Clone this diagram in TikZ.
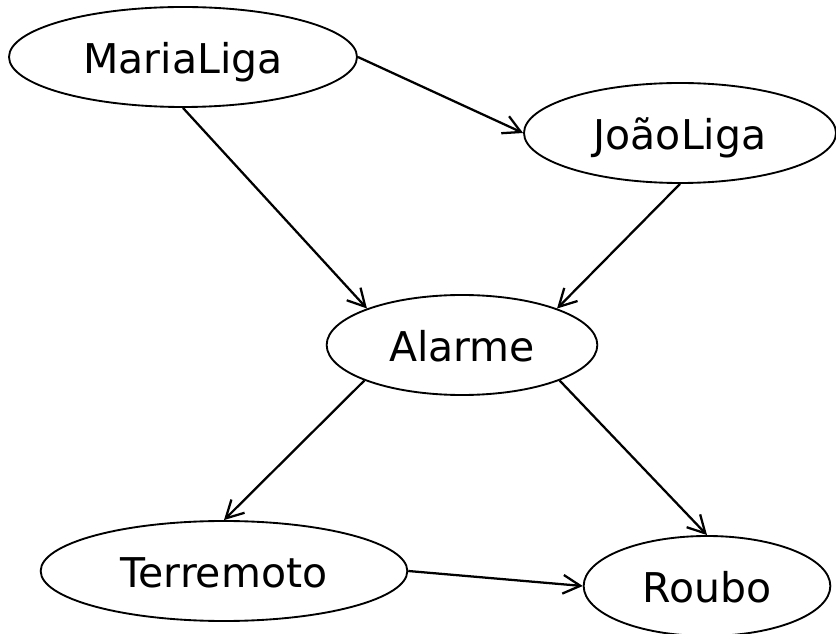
\documentclass[tikz,border=0pt]{standalone}
\usepackage{fontspec}
\setmainfont{DejaVu Sans}
\usetikzlibrary{arrows.meta,shapes.geometric}

\begin{document}
\begin{tikzpicture}[x=0.75pt,y=-0.75pt,
  var/.style={ellipse, draw, line width=1.4pt, inner sep=0pt,
    minimum height=75pt,
    font=\fontsize{30.75}{36}\selectfont,
    text height=25.5pt, text depth=0pt},
  edge/.style={line width=1.7pt,
    -{Straight Barb[length=13pt,width=14pt,line width=1.7pt]}}]
  \useasboundingbox (0,0) rectangle (836,634);

  % variables of the network
  \node[var, minimum width=261pt] (m) at (183,57)  {MariaLiga};
  \node[var, minimum width=234pt] (j) at (680,133) {JoãoLiga};
  \node[var, minimum width=203pt] (a) at (462,345) {Alarme};
  \node[var, minimum width=275pt] (t) at (224,571) {Terremoto};
  \node[var, minimum width=185pt] (r) at (707,586) {Roubo};

  % dependencies
  \draw[edge] (m.east)  -- (j.west);
  \draw[edge] (m.south) -- (a.159);
  \draw[edge] (j.south) -- (a.21);
  \draw[edge] (a.200)   -- (t.north);
  \draw[edge] (a.340)   -- (r.north);
  \draw[edge] (t.east)  -- (r.west);
\end{tikzpicture}
\end{document}
